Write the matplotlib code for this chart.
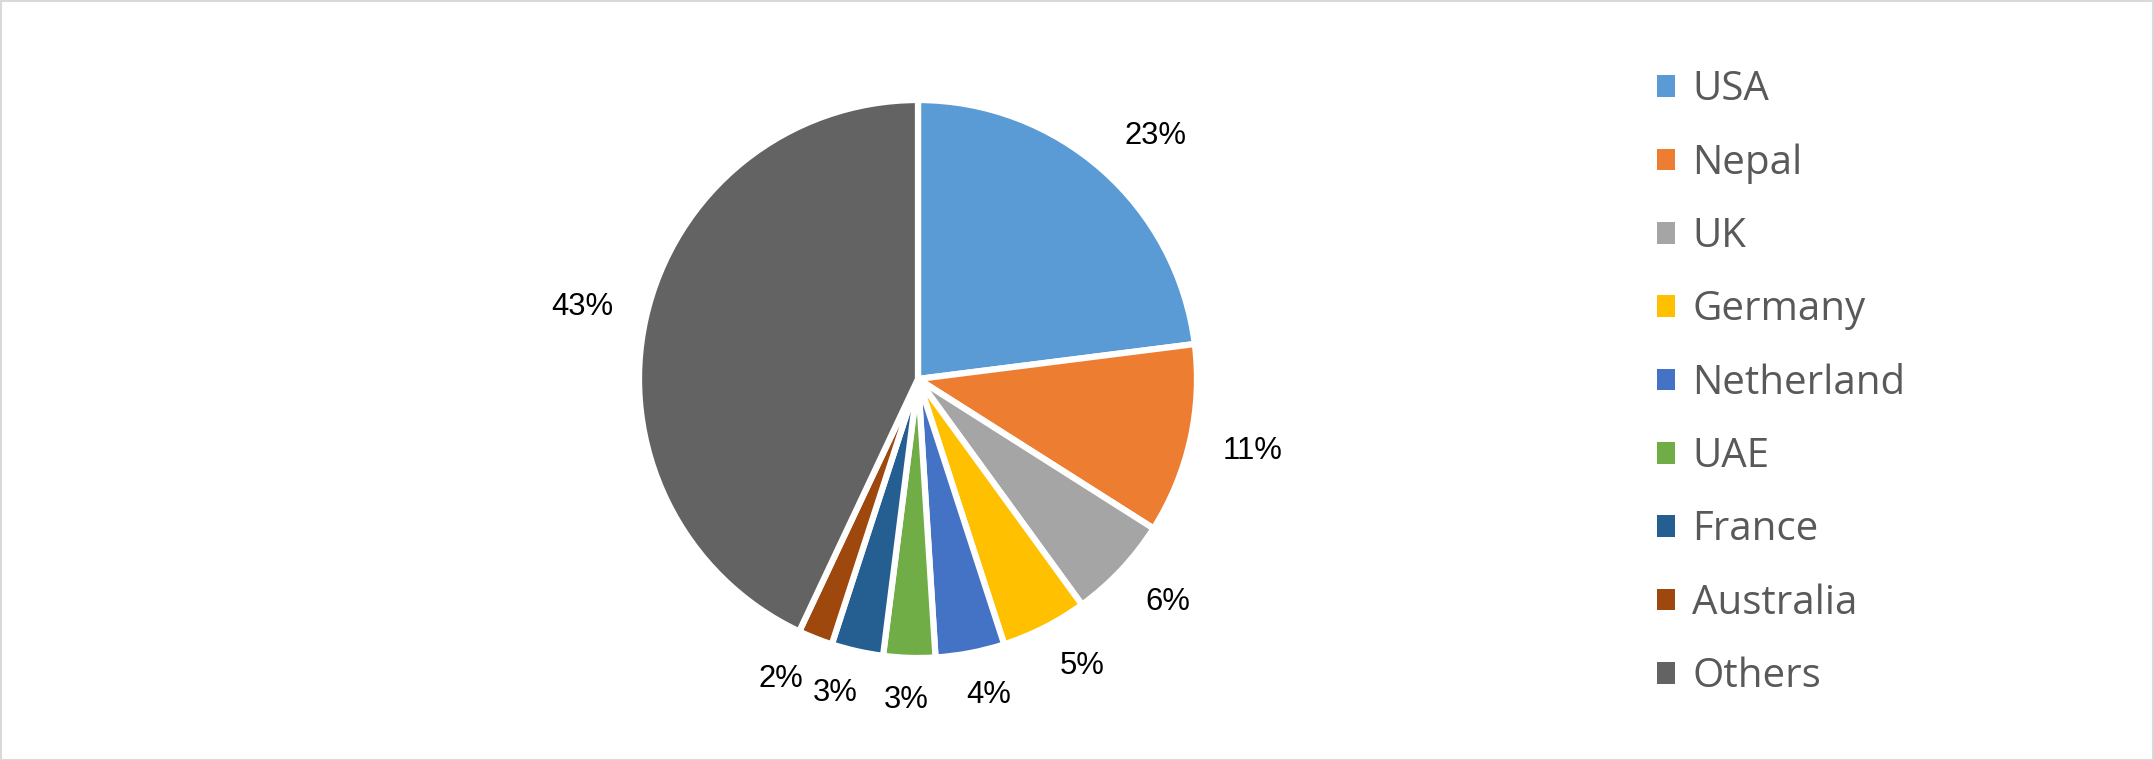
import matplotlib
matplotlib.use("Agg")
import numpy as np
import matplotlib.pyplot as plt
from matplotlib.patches import Rectangle

# ---- data ----
countries = ["USA", "Nepal", "UK", "Germany", "Netherland", "UAE", "France", "Australia", "Others"]
shares = [23, 11, 6, 5, 4, 3, 3, 2, 43]
colors = ["#5B9BD5", "#ED7D31", "#A5A5A5", "#FFC000", "#4472C4",
          "#70AD47", "#255E91", "#9E480E", "#636363"]

W, H = 2154, 760
fig = plt.figure(figsize=(W / 100, H / 100), dpi=100)
fig.patch.set_facecolor("white")

# outer chart border
fig.patches.append(Rectangle((0.5 / W, 0.5 / H), 1 - 1.5 / W, 1 - 1.5 / H,
                             transform=fig.transFigure, fill=False,
                             edgecolor="#D9D9D9", linewidth=1.5))

# pie axes
cx, cy, r = 918, 379, 279
ax = fig.add_axes([(cx - r) / W, (H - cy - r) / H, 2 * r / W, 2 * r / H])
wedges, _ = ax.pie(
    shares, colors=colors, startangle=90, counterclock=False,
    wedgeprops=dict(edgecolor="white", linewidth=4.5),
)
ax.set_xlim(-1, 1)
ax.set_ylim(-1, 1)
ax.set_aspect("auto")
ax.axis("off")

# percentage labels placed outside, box touching a point at 1.12 R
total = sum(shares)
labels = []
for w, v in zip(wedges, shares):
    th = np.deg2rad((w.theta1 + w.theta2) / 2)
    t = ax.text(1.12 * np.cos(th), 1.12 * np.sin(th), f"{100 * v / total:.0f}%",
                ha="center", va="center", fontsize=22.3, color="black",
                family=["Liberation Sans", "DejaVu Sans"])
    labels.append((t, th))

fig.canvas.draw()
renderer = fig.canvas.get_renderer()
for t, th in labels:
    bb = t.get_window_extent(renderer)
    dx = bb.width / 2 * np.clip(np.cos(th) * 3.0, -1, 1)
    dy = bb.height * 0.3 * np.clip(np.sin(th) * 2.2, -1, 1)
    px, py = ax.transData.transform(t.get_position())
    t.set_position(ax.transData.inverted().transform((px + dx, py + dy)))

leg = fig.legend(
    wedges, countries, loc="upper left",
    bbox_to_anchor=(1657 / W, 1 - 70 / H),
    frameon=False, borderpad=0, borderaxespad=0,
    handlelength=0.45, handleheight=0.45, handletextpad=0.42,
    labelspacing=0.815,
    prop=dict(family=["Open Sans", "DejaVu Sans"], size=29),
)
for t in leg.get_texts():
    t.set_color("#595959")
for h in leg.legend_handles:
    h.set_edgecolor("none")

fig.savefig("out.png", dpi=100, facecolor="white")
